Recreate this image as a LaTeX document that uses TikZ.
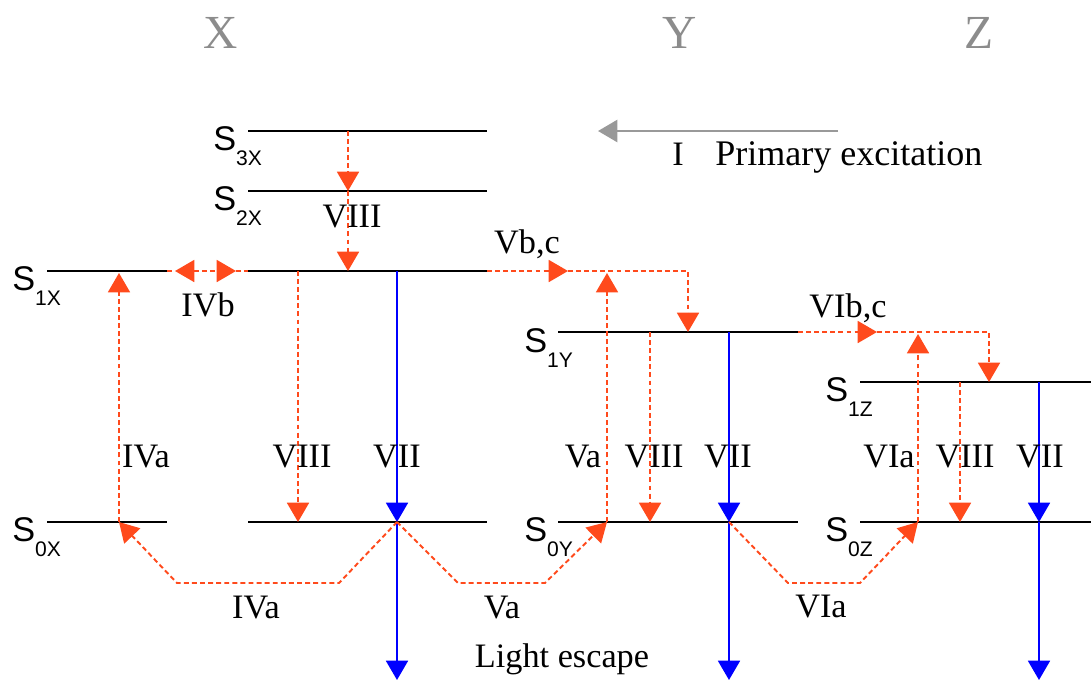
\documentclass[tikz,border=0pt]{standalone}
\usepackage{fontspec}
\setmainfont{Liberation Serif}
\newfontfamily\statefont{Liberation Sans}
\usepackage{tikz}
\usetikzlibrary{arrows.meta}
\usetikzlibrary{positioning, calc}
\definecolor{relaxred}{HTML}{FF4A1C}
\definecolor{escblue}{HTML}{0000FF}
\definecolor{pumpgray}{HTML}{999999}
\definecolor{sitegray}{HTML}{8C8C8C}
\tikzset{
    level_line/.style = {line width=1.6pt, black},
    relax_arrow/.style = {->, line width=1.1pt, relaxred, dash pattern=on 2.8pt off 1.8pt},
    relax_line/.style = {relax_arrow, -},
    light_arrow/.style = {->, line width=1.1pt, escblue},
    pump_arrow/.style = {->, line width=1.5pt, pumpgray},
    proc_label/.style = {inner sep=0pt, anchor=base, font=\fontsize{19.5}{19.5}\selectfont},
    state_label/.style = {inner sep=0pt, anchor=base west, font=\statefont\fontsize{19.5}{19.5}\selectfont},
    site_label/.style = {inner sep=0pt, anchor=base, text=sitegray, font=\fontsize{27}{27}\selectfont},
}
\newcommand{\statesub}[1]{S{\fontsize{12}{12}\selectfont\raisebox{-9pt}{#1}}}

\begin{document}
\begin{tikzpicture}[x=0.02cm, y=-0.02cm, >={Triangle[length=11pt,width=12.5pt]}]
    \useasboundingbox (0,0) rectangle (1091,681);
    % energy levels
    \coordinate (s3xa) at (248,131); \coordinate (s3xb) at (487,131);
    \coordinate (s2xa) at (248,191); \coordinate (s2xb) at (487,191);
    \coordinate (s1xa) at (47,271);  \coordinate (s1xb) at (167,271);
    \coordinate (s1xc) at (248,271); \coordinate (s1xd) at (487,271);
    \coordinate (s0xa) at (47,522);  \coordinate (s0xb) at (167,522);
    \coordinate (s0xc) at (248,522); \coordinate (s0xd) at (487,522);
    \coordinate (s1ya) at (558,332); \coordinate (s1yb) at (798,332);
    \coordinate (s0ya) at (558,522); \coordinate (s0yb) at (798,522);
    \coordinate (s1za) at (860,382); \coordinate (s1zb) at (1091,382);
    \coordinate (s0za) at (860,522); \coordinate (s0zb) at (1091,522);
    \foreach \a/\b in {s3xa/s3xb, s2xa/s2xb, s1xa/s1xb, s1xc/s1xd, s0xa/s0xb,
            s0xc/s0xd, s1ya/s1yb, s0ya/s0yb, s1za/s1zb, s0za/s0zb}
        \draw[level_line] (\a) -- (\b);
    \node (l3x) [state_label] at ($(s3xa)+(-35,19)$) {\statesub{3X}};
    \node (l2x) [state_label] at ($(s2xa)+(-35,19)$) {\statesub{2X}};
    \node (l1x) [state_label] at ($(s1xa)+(-35,19)$) {\statesub{1X}};
    \node (l0x) [state_label] at ($(s0xa)+(-35,19)$) {\statesub{0X}};
    \node (l1y) [state_label] at ($(s1ya)+(-34,20)$) {\statesub{1Y}};
    \node (l0y) [state_label] at ($(s0ya)+(-34,19)$) {\statesub{0Y}};
    \node (l1z) [state_label] at ($(s1za)+(-35,19)$) {\statesub{1Z}};
    \node (l0z) [state_label] at ($(s0za)+(-35,19)$) {\statesub{0Z}};

    \node (sx) [site_label] at (221,48) {X};
    \node (sy) [site_label] at (680,48) {Y};
    \node (sz) [site_label] at (979,48) {Z};

    % primary excitation
    \coordinate (pumpa) at (838,131); \coordinate (pumpb) at (598,131);
    \draw[pump_arrow] (pumpa) -- (pumpb);
    \node (lpump) [proc_label] at (678,165) {I};
    \node (lpumptext) [proc_label, anchor=base west, font=\fontsize{20.5}{20.5}\selectfont] at (715,165) {Primary excitation};

    % site X
    \coordinate (viii3) at (348,131); \coordinate (viii2) at (348,191); \coordinate (viii1) at (348,271);
    \draw[relax_arrow] (viii3) -- (viii2);
    \draw[relax_arrow] (viii2) -- (viii1);
    \coordinate (ivbl) at (175,271); \coordinate (ivbr) at (236,271);
    \draw[relax_line] (s1xb) -- (ivbl);
    \draw[relax_arrow, <->] (ivbl) -- (ivbr);
    \draw[relax_line] (ivbr) -- (s1xc);
    \coordinate (iva0) at (119,522); \coordinate (iva1) at (119,273);
    \draw[relax_arrow] (iva0) -- (iva1);
    \coordinate (viiix1) at (298,271); \coordinate (viiix0) at (298,522);
    \draw[relax_arrow] (viiix1) -- (viiix0);
    \coordinate (viix1) at (397,271); \coordinate (viix0) at (397,522); \coordinate (viixe) at (397,680);
    \draw[light_arrow] (viix1) -- (viix0);
    \draw[light_arrow] (viix0) -- (viixe);
    \draw[relax_arrow] (viix0) -- ++(-58,61) -- ++(-162,0) -- (iva0);

    % site Y
    \coordinate (va0) at (607,522); \coordinate (va1) at (607,273);
    \draw[relax_arrow] (va0) -- (va1);
    \draw[relax_arrow] (viix0) -- ++(61,61) -- ++(87,0) -- (va0);
    \coordinate (vbcm) at (568,271); \coordinate (vbc1) at (688,332);
    \draw[relax_arrow] (s1xd) -- (vbcm);
    \draw[relax_arrow] (vbcm) -| (vbc1);
    \coordinate (viiiy1) at (650,332); \coordinate (viiiy0) at (650,522);
    \draw[relax_arrow] (viiiy1) -- (viiiy0);
    \coordinate (viiy1) at (729,332); \coordinate (viiy0) at (729,522); \coordinate (viiye) at (729,680);
    \draw[light_arrow] (viiy1) -- (viiy0);
    \draw[light_arrow] (viiy0) -- (viiye);

    % site Z
    \coordinate (via0) at (918,522); \coordinate (via1) at (918,334);
    \draw[relax_arrow] (via0) -- (via1);
    \draw[relax_arrow] (viiy0) -- ++(59,61) -- ++(72,0) -- (via0);
    \coordinate (vibcm) at (877,332); \coordinate (vibc1) at (989,382);
    \draw[relax_arrow] (s1yb) -- (vibcm);
    \draw[relax_arrow] (vibcm) -| (vibc1);
    \coordinate (viiiz1) at (960,382); \coordinate (viiiz0) at (960,522);
    \draw[relax_arrow] (viiiz1) -- (viiiz0);
    \coordinate (viiz1) at (1039,382); \coordinate (viiz0) at (1039,522); \coordinate (viize) at (1039,680);
    \draw[light_arrow] (viiz1) -- (viiz0);
    \draw[light_arrow] (viiz0) -- (viize);

    % process labels
    \node (lviiitop) [proc_label] at (352,227) {VIII};
    \node (livb) [proc_label] at (208,316) {IVb};
    \node (lvbc) [proc_label] at (527,253) {Vb,c};
    \node (lvibc) [proc_label] at (848,317) {VIb,c};
    \node (liva) [proc_label] at (146,467) {IVa};
    \node (lviiix) [proc_label] at (302,467) {VIII};
    \node (lviix) [proc_label] at (397,467) {VII};
    \node (lva) [proc_label] at (583,467) {Va};
    \node (lviiiy) [proc_label] at (654,467) {VIII};
    \node (lviiy) [proc_label] at (728,467) {VII};
    \node (lvia) [proc_label] at (889,467) {VIa};
    \node (lviiiz) [proc_label] at (965,467) {VIII};
    \node (lviiz) [proc_label] at (1040,467) {VII};
    \node (livab) [proc_label] at (256,618) {IVa};
    \node (lvab) [proc_label] at (502,618) {Va};
    \node (lviab) [proc_label] at (821,617) {VIa};
    \node (lescape) [proc_label] at (562,667) {Light escape};
\end{tikzpicture}
\end{document}
